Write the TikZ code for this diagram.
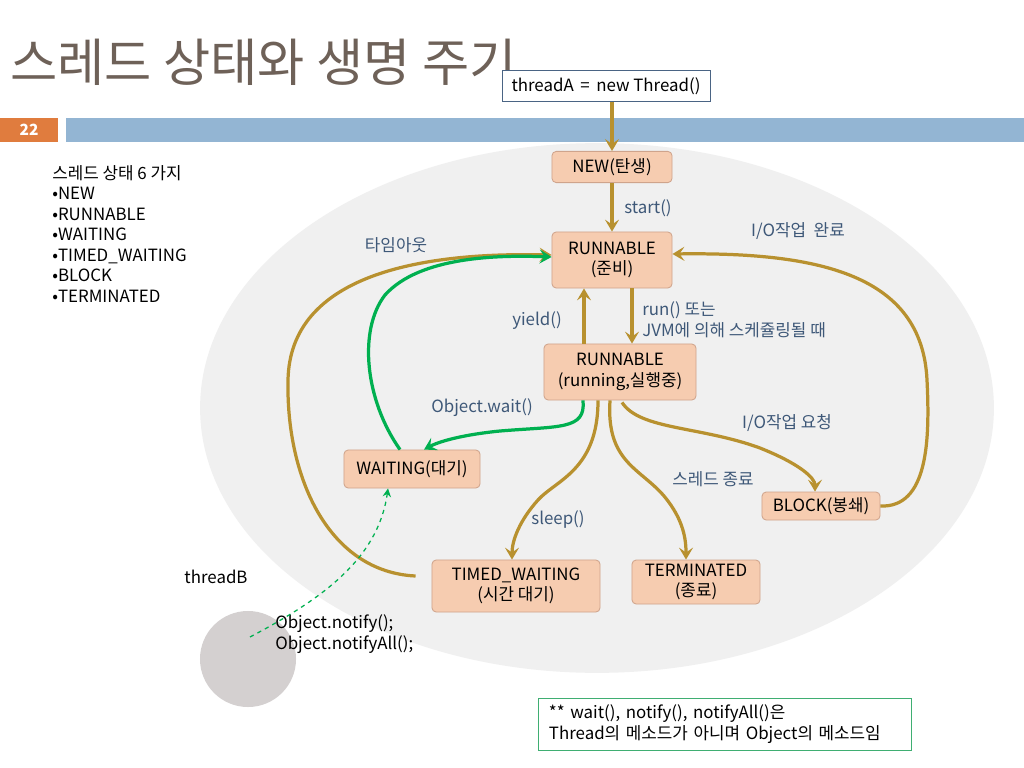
\documentclass[tikz,border=0pt]{standalone}
\usepackage{fontspec}
\setmainfont{Noto Sans CJK KR}
\usepackage{xcolor}
\usetikzlibrary{arrows.meta,calc,shapes,positioning}

\definecolor{titlegray}{HTML}{6E6158}
\definecolor{pageorange}{HTML}{E07C3E}
\definecolor{barblue}{HTML}{93B5D3}
\definecolor{ovalgray}{HTML}{F0F0F0}
\definecolor{statefill}{HTML}{F6CCB0}
\definecolor{stateline}{HTML}{CFA48C}
\definecolor{flowgold}{HTML}{B8912F}
\definecolor{flowgreen}{HTML}{00B050}
\definecolor{labelblue}{HTML}{3E5878}
\definecolor{circlegray}{HTML}{D4D0D0}
\definecolor{boxslate}{HTML}{4A6484}
\definecolor{notegreen}{HTML}{3FAE72}

\newcommand{\statefont}{\fontsize{12}{14.6}\selectfont}

\tikzset{
  statebox/.style={draw=stateline, line width=0.6pt, fill=statefill, rounded corners=3pt, align=center, inner sep=0pt, font=\statefont},
  flowlabel/.style={text=labelblue, inner sep=0pt, align=left, font=\statefont},
  plaintext/.style={inner sep=0pt, align=left, font=\statefont},
  goldflow/.style={draw=flowgold, line width=2.3pt, -{Stealth[length=8.5pt,width=10pt,inset=3.5pt]}},
  greenflow/.style={draw=flowgreen, line width=2.3pt, -{Stealth[length=8.5pt,width=10pt,inset=3.5pt]}},
  notifyflow/.style={draw=flowgreen, line width=0.9pt, dashed, -{Stealth[length=6pt,width=6pt,inset=2pt]}}
}

\begin{document}
\begin{tikzpicture}[x=0.025cm, y=-0.025cm]

    \useasboundingbox (0,0) rectangle (1024,768);
    \fill[white] (0,0) rectangle (1024,768);

    \fill[ovalgray] (597,408) ellipse [x radius=9.92cm, y radius=6.62cm];
    \fill[barblue] (66,118) rectangle (1024,142);
    \draw (29,130) node[fill=pageorange, text=white, minimum width=1.45cm, minimum height=0.6cm, font=\fontsize{11}{13}\selectfont\bfseries](pagenum){22};
    \draw (10,62) node[anchor=west, inner sep=0pt, text=titlegray, font=\fontsize{36.5}{40}\selectfont](title){스레드 상태와 생명 주기};

    \draw (52,165) node[plaintext, anchor=north west](statelist){스레드 상태 6 가지\\•NEW\\•RUNNABLE\\•WAITING\\•TIMED\_WAITING\\•BLOCK\\•TERMINATED};

    \draw (606,86) node[draw=boxslate, line width=0.6pt, fill=white, minimum width=5.2cm, minimum height=0.78cm, font=\statefont](threadA){threadA \,=\, new Thread()};

    \draw (612,167) node[statebox, minimum width=3cm, minimum height=0.78cm](new){NEW(탄생)};
    \draw (612,260) node[statebox, minimum width=3cm, minimum height=1.4cm](ready){RUNNABLE\\(준비)};
    \draw (620,372) node[statebox, minimum width=3.8cm, minimum height=1.4cm](running){RUNNABLE\\(running,실행중)};
    \draw (412,469) node[statebox, minimum width=3.4cm, minimum height=0.95cm](waiting){WAITING(대기)};
    \draw (516,586) node[statebox, minimum width=4.2cm, minimum height=1.3cm](timed){TIMED\_WAITING\\(시간 대기)};
    \draw (696,582) node[statebox, minimum width=3.2cm, minimum height=1.1cm](term){TERMINATED\\(종료)};
    \draw (821,506) node[statebox, minimum width=2.95cm, minimum height=0.7cm](block){BLOCK(봉쇄)};

    \draw [goldflow] (threadA.south -| new.north) -- (new.north);
    \draw [goldflow] (new.south) -- (ready.north);
    \draw [goldflow] ($(ready.south)+(20,0)$) -- ($(running.north)+(12,0)$);
    \draw [goldflow] ($(running.north)+(-36,0)$) -- ($(ready.south)+(-28,0)$);

    \draw [goldflow] (block.east) .. controls (928,508) and (930,440) .. (927,380) .. controls (922,275) and (820,252) .. ($(ready.east)+(0,-6)$);
    \draw [goldflow] ($(timed.west)+(-16,-10)$) .. controls (330,572) and (286,480) .. (288,380) .. controls (290,275) and (420,252) .. ($(ready.west)+(0,-5)$);
    \draw [greenflow] ($(waiting.north)+(-12,0)$) .. controls (365,400) and (358,330) .. (385,295) .. controls (420,256) and (500,255) .. ($(ready.west)+(0,-3)$);
    \draw [greenflow] ($(running.south)+(-37,0)$) .. controls (586,430) and (560,426) .. (500,431) .. controls (460,435) and (438,442) .. ($(waiting.north)+(12,0)$);

    \draw [goldflow] ($(running.south)+(-22,0)$) .. controls (598,470) and (556,480) .. (538,500) .. controls (520,520) and (512,540) .. ($(timed.north)+(-4,0)$);
    \draw [goldflow] ($(running.south)+(-10,0)$) .. controls (606,462) and (640,468) .. (664,496) .. controls (684,520) and (686,540) .. ($(term.north)+(-10,0)$);
    \draw [goldflow] ($(running.south)+(2,2)$) .. controls (640,430) and (700,426) .. (760,448) .. controls (800,464) and (815,478) .. ($(block.north)+(-6,0)$);

    \draw (648,208) node[flowlabel](startlbl){start()};
    \draw (798,231) node[flowlabel](iodonelbl){I/O작업\ \ 완료};
    \draw (396,245) node[flowlabel](timeoutlbl){타임아웃};
    \draw (537,321) node[flowlabel](yieldlbl){yield()};
    \draw (642,320) node[flowlabel, anchor=west](schedlbl){run() 또는\\JVM에 의해 스케쥴링될 때};
    \draw (482,408) node[flowlabel](waitlbl){Object.wait()};
    \draw (787,423) node[flowlabel](ioreqlbl){I/O작업 요청};
    \draw (713,479) node[flowlabel](endlbl){스레드 종료};
    \draw (558,520) node[flowlabel](sleeplbl){sleep()};

    \draw (248,659) node[circle, fill=circlegray, minimum size=2.4cm](threadBcirc){};
    \draw (216,577) node[plaintext](threadBlbl){threadB};
    \draw (275,634) node[plaintext, anchor=west](notifylbl){Object.notify();\\Object.notifyAll();};
    \coordinate (notifyfrom) at (250,637);
    \draw [notifyflow] (notifyfrom) .. controls (320,600) and (378,560) .. ($(waiting.south)+(-24,0)$);

    \draw (725,724) node[draw=notegreen, line width=0.6pt, fill=white, text width=8.8cm, inner xsep=0.27cm, inner ysep=0.15cm, minimum height=1.3cm, align=left, font=\statefont](note){** wait(), notify(), notifyAll()은\\Thread의 메소드가 아니며 Object의 메소드임};

    \end{tikzpicture}
\end{document}
